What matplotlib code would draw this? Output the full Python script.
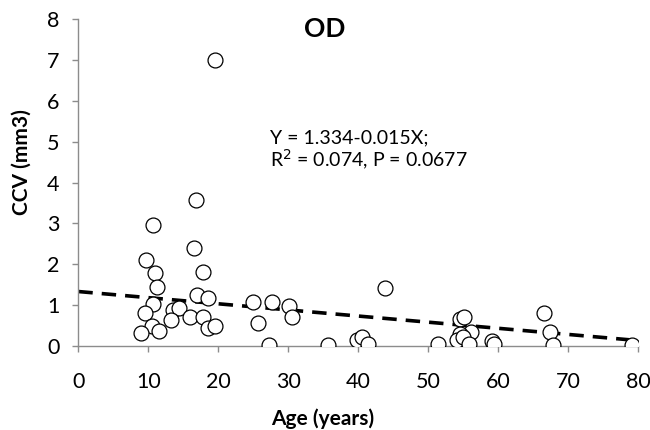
import numpy as np
import matplotlib; matplotlib.use("Agg"); import matplotlib.pyplot as plt

plt.rcParams['font.family'] = ['Lato', 'DejaVu Sans']

age = [19.5, 16.8, 10.7, 16.5, 9.7, 17.8, 10.9, 11.3, 17.0, 18.6,
       10.7, 9.5, 13.6, 14.4, 13.2, 16.0, 17.8, 10.5, 8.9, 11.6,
       18.6, 19.5, 24.9, 27.7, 25.7, 27.3, 30.1, 30.5, 35.7, 43.8,
       39.8, 40.5, 41.4, 51.4, 54.6, 55.2, 56.1, 54.5, 54.1, 55.0,
       55.9, 59.1, 59.4, 66.6, 67.4, 67.9, 79.2]
ccv = [7.00, 3.58, 2.97, 2.40, 2.10, 1.80, 1.78, 1.45, 1.25, 1.17,
       1.03, 0.80, 0.88, 0.92, 0.64, 0.70, 0.72, 0.49, 0.31, 0.36,
       0.45, 0.48, 1.07, 1.08, 0.57, 0.02, 0.98, 0.72, 0.03, 1.42,
       0.14, 0.22, 0.04, 0.04, 0.65, 0.70, 0.35, 0.30, 0.14, 0.22,
       0.06, 0.12, 0.04, 0.80, 0.35, 0.02, 0.03]
intercept, slope = 1.334, -0.015
fit_x = [0, 80]

fig = plt.figure(figsize=(6.5, 4.3), dpi=100)
ax = fig.add_axes([0.1205, 0.1953, 0.861, 0.76])

ax.scatter(age, ccv, s=115, facecolors='white', edgecolors='black', linewidths=0.9, zorder=3)
fx = np.array(fit_x, float)
ax.plot(fx, intercept + slope*fx, '--', color='black', lw=2.6, dashes=(4, 2.5), zorder=2)

ax.set_xlim(0, 80); ax.set_ylim(0, 8)
ax.set_xticks(range(0, 81, 10)); ax.set_yticks(range(0, 9))
for s in ['top', 'right']:
    ax.spines[s].set_visible(False)
for s in ['left', 'bottom']:
    ax.spines[s].set_color('#8c8c8c'); ax.spines[s].set_linewidth(1.0)
ax.tick_params(axis='both', direction='out', color='#8c8c8c', length=4.5, width=1.0, labelsize=15.5)
ax.tick_params(axis='y', pad=9)
ax.tick_params(axis='x', pad=14)

ax.set_xlabel("Age (years)", fontsize=15, fontweight='bold')
ax.set_ylabel("CCV (mm3)", fontsize=15, fontweight='bold')
ax.xaxis.set_label_coords(0.437, -0.19)
ax.yaxis.set_label_coords(-0.083, 0.563)

fig.text(0.5, 0.933, "OD", ha='center', va='center', fontsize=19, fontweight='bold')
fig.text(0.415, 0.68, "Y = 1.334-0.015X;", ha='left', va='center', fontsize=14)
fig.text(0.415, 0.628, "R$^2$ = 0.074, P = 0.0677", ha='left', va='center', fontsize=14)

plt.savefig("out.png", dpi=100)
